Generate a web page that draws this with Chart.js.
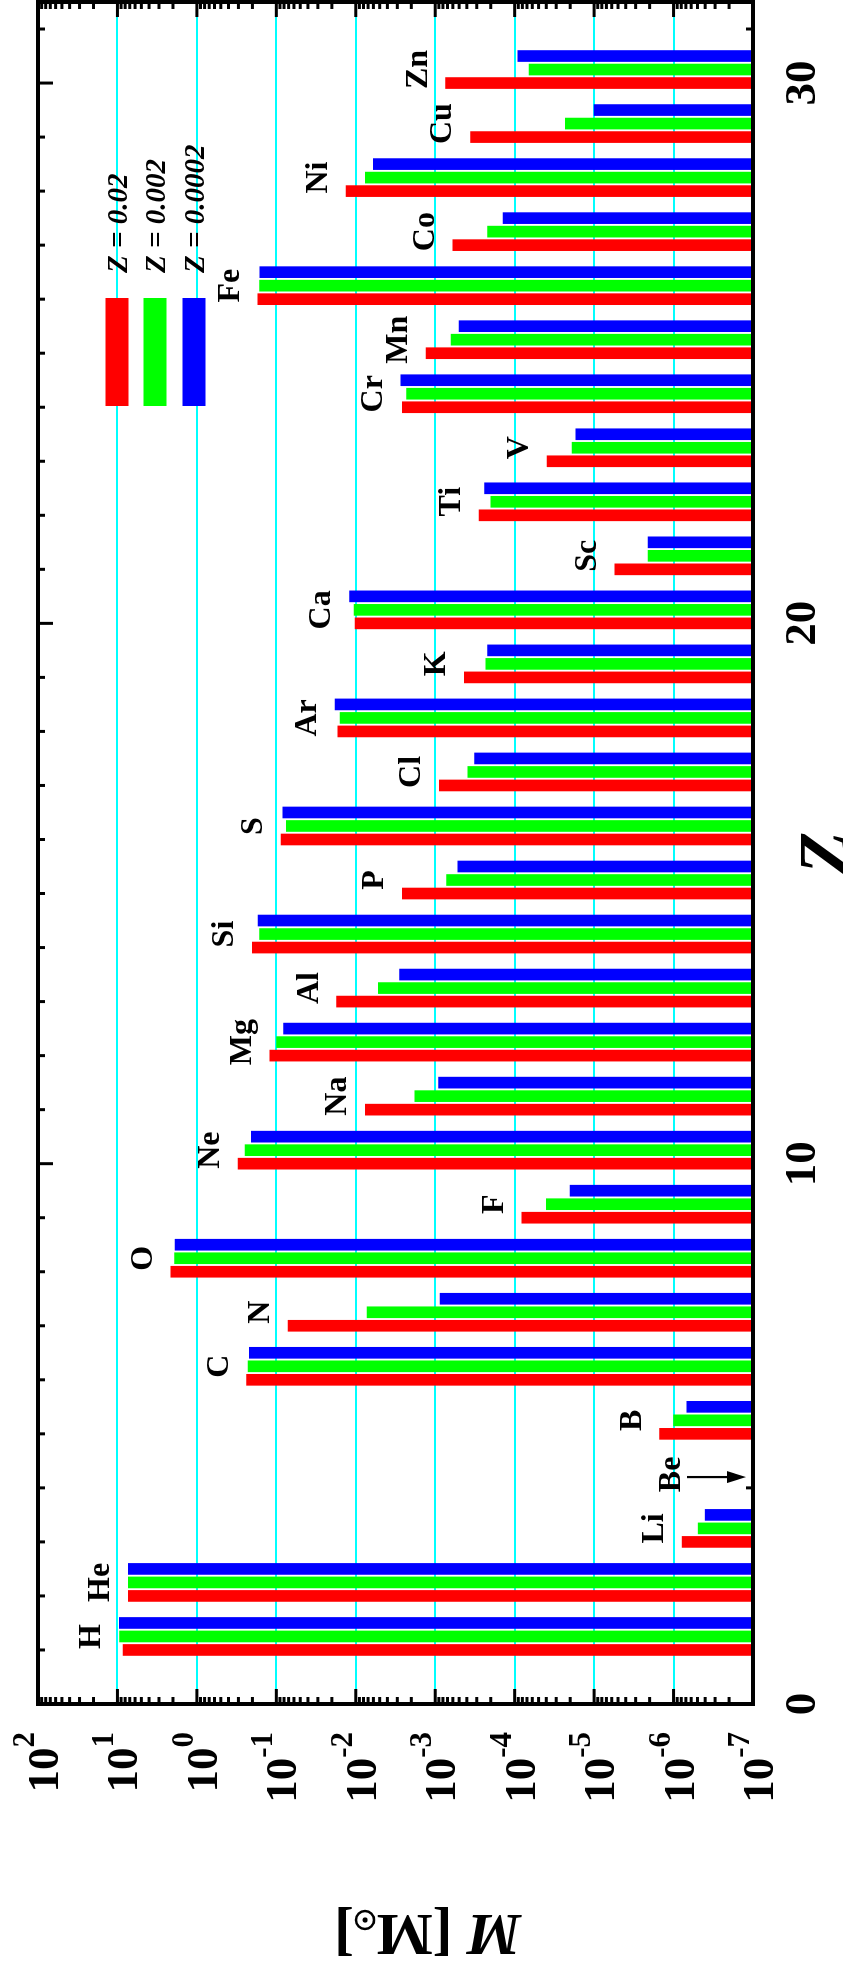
<!DOCTYPE html>
<html>
<head>
<meta charset="utf-8">
<title>Element yields</title>
<script src="https://cdn.jsdelivr.net/npm/chart.js@4.4.1/dist/chart.umd.min.js"></script>
<style>
  html, body { margin: 0; padding: 0; background: #fff; overflow: hidden; width: 843px; height: 1975px; }
  /* the plot is laid out landscape and turned a quarter turn onto the portrait page */
  #turn { position: absolute; left: 0; top: 0; width: 1975px; height: 843px;
          transform-origin: 0 0; transform: translate(0, 1975px) rotate(-90deg); }
  canvas { display: block; }
</style>
</head>
<body>
<div id="turn"><canvas id="yields" width="1975" height="843"></canvas></div>
<script>
// ---- data -------------------------------------------------------------
const ELEMENTS = ['H','He','Li','Be','B','C','N','O','F','Ne','Na','Mg','Al','Si','P',
                  'S','Cl','Ar','K','Ca','Sc','Ti','V','Cr','Mn','Fe','Co','Ni','Cu','Zn'];
const ATOMIC_NUMBERS = [1,2,3,4,5,6,7,8,9,10,11,12,13,14,15,16,17,18,19,20,21,22,23,24,25,26,27,28,29,30];
const SERIES_LABELS = ['Z = 0.02', 'Z = 0.002', 'Z = 0.0002'];

// ejected mass per element [Msun]; null = below the plotted range
const MASS_Z_002 = [8.5, 7.3, 7.8e-7, null, 1.5e-6, 0.237, 0.0714, 2.13, 8.1e-5, 0.304,
                    7.6e-3, 0.121, 0.0174, 0.20, 2.6e-3, 0.087, 8.9e-4, 0.0168, 4.3e-4, 0.0102,
                    5.5e-6, 2.8e-4, 3.9e-5, 2.6e-3, 1.3e-3, 0.171, 6.0e-4, 0.0132, 3.6e-4, 7.4e-4];
const MASS_Z_0002 = [9.4, 7.3, 4.9e-7, null, 1.0e-6, 0.226, 7.2e-3, 1.91, 4.0e-5, 0.248,
                     1.8e-3, 0.099, 5.2e-3, 0.162, 7.2e-4, 0.075, 3.9e-4, 0.0158, 2.3e-4, 0.0105,
                     2.1e-6, 2.0e-4, 1.9e-5, 2.3e-3, 6.3e-4, 0.163, 2.2e-4, 7.6e-3, 2.3e-5, 6.6e-5];
const MASS_Z_00002 = [9.5, 7.3, 4.0e-7, null, 6.8e-7, 0.219, 8.7e-4, 1.88, 2.0e-5, 0.206,
                      9.1e-4, 0.081, 2.8e-3, 0.17, 5.2e-4, 0.083, 3.2e-4, 0.0182, 2.2e-4, 0.012,
                      2.1e-6, 2.4e-4, 1.7e-5, 2.7e-3, 5.0e-4, 0.161, 1.4e-4, 6.0e-3, 1.0e-5, 9.1e-5];

const Z_TICK_LABELS = [0, 10, 20, 30];
const MASS_TICK_EXPONENTS = [2, 1, 0, -1, -2, -3, -4, -5, -6, -7];

// ---- styling ----------------------------------------------------------
const SERIES = [MASS_Z_002, MASS_Z_0002, MASS_Z_00002];
const COLORS = ['#ff0000', '#00ff00', '#0000ff'];
const SHIFT = [0, 0.25, 0.5];          // each metallicity sits a quarter unit further along Z
const SERIF = '"Liberation Serif", "Times New Roman", serif';

const datasets = SERIES.map((vals, i) => ({
  label: SERIES_LABELS[i],
  data: ATOMIC_NUMBERS.map((z, j) => ({ x: z + SHIFT[i], y: vals[j] })),
  backgroundColor: COLORS[i],
  borderWidth: 0,
  barThickness: 11,
  grouped: false
}));

function line(ctx, x1, y1, x2, y2) {
  ctx.beginPath(); ctx.moveTo(x1, y1); ctx.lineTo(x2, y2); ctx.stroke();
}

const decorations = {
  id: 'decorations',
  beforeDatasetsDraw(chart) {
    const { ctx, chartArea: a, scales: { x, y } } = chart;
    ctx.save();
    ctx.strokeStyle = '#000';
    ctx.lineWidth = 3;
    // Z ticks on both long edges, pointing inward
    for (let z = 1; z <= 31; z++) {
      const px = x.getPixelForValue(z);
      const len = z % 10 === 0 ? 15 : 7;
      line(ctx, px, a.top, px, a.top + len);
      line(ctx, px, a.bottom, px, a.bottom - len);
    }
    // logarithmic ticks on both short edges
    for (let e = -7; e <= 1; e++) {
      for (let k = 1; k <= 9; k++) {
        const v = k * Math.pow(10, e);
        const py = y.getPixelForValue(v);
        const len = k === 1 ? 15 : 7;
        line(ctx, a.left, py, a.left + len, py);
        line(ctx, a.right, py, a.right - len, py);
      }
    }
    ctx.restore();
  },
  afterDatasetsDraw(chart) {
    const { ctx, chartArea: a, scales: { x, y } } = chart;
    ctx.save();

    // frame
    ctx.strokeStyle = '#000';
    ctx.lineWidth = 4;
    ctx.strokeRect(a.left, a.top, a.right - a.left, a.bottom - a.top);

    ctx.fillStyle = '#000';
    ctx.textBaseline = 'alphabetic';

    // Z tick labels
    ctx.font = 'bold 45px ' + SERIF;
    ctx.textAlign = 'center';
    Z_TICK_LABELS.forEach(z => ctx.fillText(String(z), x.getPixelForValue(z), a.bottom + 62));

    // mass tick labels 10^n
    const labelRight = a.left - 28;
    MASS_TICK_EXPONENTS.forEach(e => {
      const py = y.getPixelForValue(Math.pow(10, e));
      const sup = String(e);
      ctx.font = 'bold 31px ' + SERIF;
      const sw = ctx.measureText(sup).width;
      ctx.font = 'bold 45px ' + SERIF;
      const mw = ctx.measureText('10').width;
      ctx.textAlign = 'left';
      ctx.fillText('10', labelRight - sw - mw, py + 20);
      ctx.font = 'bold 31px ' + SERIF;
      ctx.fillText(sup, labelRight - sw, py - 4);
    });

    // axis title Z
    ctx.font = 'bold italic 70px ' + SERIF;
    ctx.textAlign = 'center';
    ctx.fillText('Z', (a.left + a.right) / 2, a.bottom + 94);

    // axis title M [Msun]
    ctx.save();
    ctx.translate(60, (a.top + a.bottom) / 2 + 32);
    ctx.rotate(-Math.PI / 2);
    const fItal = 'bold italic 60px ' + SERIF, fBold = 'bold 60px ' + SERIF;
    ctx.font = fItal; const w1 = ctx.measureText('M').width;
    ctx.font = fBold; const w2 = ctx.measureText(' [M').width;
    const w3 = ctx.measureText(']').width;
    const sunR = 9, sunW = 2 * sunR + 4;
    let cx = -(w1 + w2 + sunW + w3) / 2;
    ctx.textAlign = 'left';
    ctx.font = fItal; ctx.fillText('M', cx, 0); cx += w1;
    ctx.font = fBold; ctx.fillText(' [M', cx, 0); cx += w2;
    ctx.lineWidth = 2.5;
    ctx.beginPath(); ctx.arc(cx + 2 + sunR, -5, sunR, 0, Math.PI * 2); ctx.stroke();
    ctx.beginPath(); ctx.arc(cx + 2 + sunR, -5, 2.6, 0, Math.PI * 2); ctx.fill();
    cx += sunW;
    ctx.fillText(']', cx, 0);
    ctx.restore();

    // element labels above each group
    ctx.font = 'bold 32px ' + SERIF;
    ctx.textAlign = 'center';
    ELEMENTS.forEach((el, j) => {
      const z = ATOMIC_NUMBERS[j];
      const vals = SERIES.map(s => s[j]).filter(v => v !== null);
      const lx = x.getPixelForValue(z + 0.25);
      if (vals.length) {
        const top = Math.min(...vals.map(v => y.getPixelForValue(v)));
        ctx.fillText(el, lx, top - 19);
      } else {
        // off-scale element: label with an arrow down to the axis
        const base = a.bottom - 73;
        ctx.fillText(el, lx, base);
        const ax = x.getPixelForValue(z + 0.2);
        ctx.lineWidth = 2.2;
        line(ctx, ax, base + 7, ax, a.bottom - 22);
        ctx.beginPath();
        ctx.moveTo(ax, a.bottom - 7);
        ctx.lineTo(ax - 6, a.bottom - 26);
        ctx.lineTo(ax + 6, a.bottom - 26);
        ctx.closePath(); ctx.fill();
      }
    });

    // legend
    const legLeft = a.right - 404, legLen = 108;
    const legY = [117, 155, 194];
    SERIES_LABELS.forEach((lab, i) => {
      ctx.fillStyle = COLORS[i];
      ctx.fillRect(legLeft, legY[i] - 11.5, legLen, 23);
      ctx.fillStyle = '#000';
      ctx.font = 'bold italic 29px ' + SERIF;
      ctx.textAlign = 'left';
      ctx.fillText(lab, legLeft + legLen + 25, legY[i] + 10);
    });

    ctx.restore();
  }
};

new Chart(document.getElementById('yields'), {
  type: 'bar',
  data: { datasets },
  options: {
    responsive: false,
    animation: false,
    devicePixelRatio: 1,
    layout: { padding: { left: 271, top: 38, right: 2, bottom: 90 } },
    plugins: { legend: { display: false }, tooltip: { enabled: false } },
    scales: {
      x: {
        type: 'linear', min: 0, max: 31.5, offset: false,
        grid: { display: false, drawTicks: false, offset: false },
        border: { display: false },
        ticks: { display: false }
      },
      y: {
        type: 'logarithmic', min: 1e-7, max: 1e2,
        grid: { color: '#00ffff', lineWidth: 2, drawTicks: false },
        border: { display: false },
        ticks: { display: false },
        afterBuildTicks: s => { s.ticks = MASS_TICK_EXPONENTS.map(e => ({ value: Math.pow(10, e) })); }
      }
    }
  },
  plugins: [decorations]
});
</script>
</body>
</html>
